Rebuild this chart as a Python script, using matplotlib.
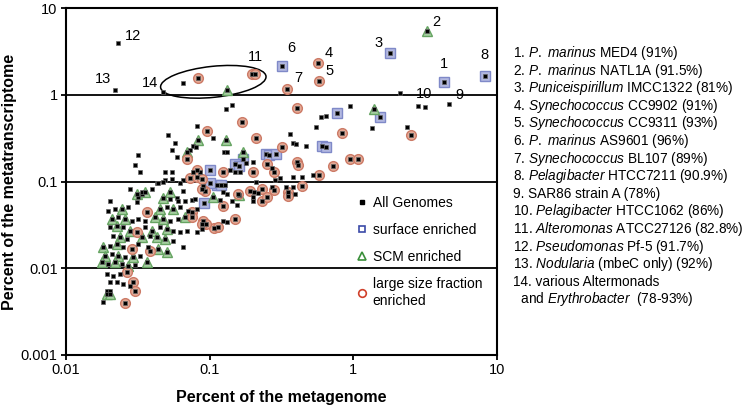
import matplotlib
matplotlib.use("Agg")
import matplotlib.pyplot as plt
from matplotlib.lines import Line2D
from matplotlib.patches import Ellipse
from matplotlib.transforms import ScaledTranslation

plt.rcParams['font.family'] = ['Liberation Sans', 'DejaVu Sans']
plt.rcParams['mathtext.fontset'] = 'custom'
plt.rcParams['mathtext.rm'] = 'Liberation Sans'
plt.rcParams['mathtext.it'] = 'Liberation Sans:italic'

# genomes with no enrichment (percent of metagenome, percent of metatranscriptome)
plain_x = [0.023, 0.022, 0.047, 0.065, 2.11, 2.82, 3.16, 4.6, 2.36, 1.34, 0.595, 0.645, 0.95, 0.55,
           0.362, 0.38, 0.40, 0.47, 0.38, 0.44, 0.52, 0.38, 0.13, 0.143, 0.105, 0.125, 0.133, 0.18,
           0.20, 0.27, 0.138, 0.15, 0.163, 0.086, 0.21, 0.285, 0.31, 0.122, 0.128, 0.34, 0.39, 0.09,
           0.124, 0.133, 0.143, 0.155, 0.203, 0.217, 0.20, 0.20, 0.271, 0.124, 0.132, 0.088, 0.065,
           0.082, 0.051, 0.057, 0.076, 0.08, 0.073, 0.055, 0.059, 0.0327, 0.049, 0.055, 0.076, 0.049,
           0.055, 0.065, 0.043, 0.062, 0.04, 0.065, 0.034, 0.059, 0.075, 0.118,
           0.0202, 0.0317, 0.0529, 0.0602, 0.0673, 0.079, 0.0196, 0.0219, 0.027, 0.0504, 0.0621,
           0.0706, 0.0816, 0.023, 0.0288, 0.0317, 0.0355, 0.0529, 0.0602, 0.0202, 0.0249, 0.0355,
           0.0451, 0.0555, 0.0621, 0.0695, 0.0816, 0.0212, 0.0266, 0.0384, 0.0555, 0.0202, 0.0249,
           0.0317, 0.0372, 0.0209, 0.0257, 0.0327, 0.0196, 0.0245, 0.0302, 0.0193, 0.0212, 0.0238,
           0.0202, 0.0226, 0.0249, 0.0279, 0.0193, 0.0202, 0.0181,
           0.0317, 0.0302, 0.0279, 0.0338, 0.0437, 0.047, 0.0312]
plain_y = [3.9, 1.13, 1.08, 1.37, 1.05, 0.75, 0.73, 0.79, 0.43, 0.41, 0.56, 0.57, 0.75, 0.43,
           0.356, 0.28, 0.27, 0.26, 0.114, 0.114, 0.12, 0.087, 0.69, 0.77, 0.32, 0.22, 0.22, 0.165,
           0.17, 0.145, 0.137, 0.13, 0.13, 0.13, 0.10, 0.105, 0.11, 0.09, 0.092, 0.087, 0.071, 0.088,
           0.075, 0.071, 0.06, 0.053, 0.075, 0.073, 0.067, 0.059, 0.086, 0.035, 0.034, 0.028, 0.0174,
           0.44, 0.34, 0.28, 0.26, 0.25, 0.23, 0.23, 0.19, 0.127, 0.13, 0.13, 0.13, 0.105,
           0.108, 0.103, 0.095, 0.097, 0.081, 0.077, 0.071, 0.065, 0.061, 0.062,
           0.059, 0.0655, 0.0621, 0.0589, 0.0589, 0.0621, 0.0452, 0.0477, 0.0503, 0.0503, 0.0503,
           0.0452, 0.0477, 0.0386, 0.0347, 0.0366, 0.0347, 0.0347, 0.0366, 0.0296, 0.0296, 0.0296,
           0.0296, 0.0266, 0.0259, 0.0266, 0.0259, 0.0233, 0.0215, 0.0233, 0.0204, 0.0179, 0.0174,
           0.0189, 0.0174, 0.0145, 0.0134, 0.0137, 0.0111, 0.0111, 0.0108, 0.0085, 0.0081, 0.0085,
           0.0069, 0.0069, 0.0065, 0.0062, 0.0054, 0.0054, 0.0041,
           0.2, 0.157, 0.081, 0.075, 0.097, 0.1, 0.0574]

# surface enriched
surf_x = [0.318, 1.8, 4.27, 8.24, 1.53, 0.77, 0.61, 0.65, 0.247, 0.26, 0.29, 0.17, 0.15, 0.16,
          0.10, 0.112, 0.12, 0.10, 0.091]
surf_y = [2.16, 3.04, 1.41, 1.65, 0.56, 0.62, 0.26, 0.25, 0.21, 0.20, 0.21, 0.18, 0.16, 0.15,
          0.137, 0.09, 0.092, 0.095, 0.057]

# SCM enriched
scm_x = [0.132, 3.25, 1.39, 0.13, 0.17, 0.105, 0.16, 0.083, 0.053, 0.047, 0.0312, 0.0355, 0.07,
         0.0245, 0.0451, 0.0555, 0.0209, 0.0257, 0.0416, 0.0473, 0.0673, 0.0226, 0.0279, 0.0397,
         0.0504, 0.0238, 0.0338, 0.043, 0.0489, 0.0181, 0.0226, 0.0437, 0.0504, 0.0187, 0.023,
         0.0293, 0.0366, 0.0178, 0.0219, 0.027, 0.0193, 0.0202]
scm_y = [1.14, 5.45, 0.69, 0.30, 0.22, 0.067, 0.069, 0.30, 0.075, 0.064, 0.071, 0.075, 0.22,
         0.0477, 0.0477, 0.0477, 0.0366, 0.0366, 0.0386, 0.0366, 0.0386, 0.0304, 0.0266, 0.0266,
         0.0281, 0.0227, 0.0227, 0.0227, 0.0215, 0.0174, 0.0189, 0.0165, 0.0153, 0.0137, 0.0137,
         0.0134, 0.0117, 0.0117, 0.0117, 0.0105, 0.005, 0.005]

# large size fraction enriched
large_x = [0.083, 0.197, 0.206, 0.345, 0.567, 0.573, 2.51, 0.405, 0.83, 0.405, 0.41, 0.72, 0.95,
           1.08, 0.58, 0.44, 0.168, 0.096, 0.21, 0.32, 0.25, 0.20, 0.28, 0.19, 0.28, 0.157, 0.093,
           0.23, 0.23, 0.25, 0.35, 0.35, 0.124, 0.15, 0.107, 0.115, 0.09, 0.094, 0.07, 0.081, 0.124,
           0.073, 0.081, 0.088, 0.088,
           0.0366, 0.0753, 0.0753, 0.0884, 0.0312, 0.0288, 0.0384, 0.0266, 0.0293, 0.0302, 0.0257]
large_y = [1.57, 1.74, 1.74, 1.17, 2.33, 1.45, 0.34, 0.71, 0.36, 0.17, 0.155, 0.15, 0.18,
           0.18, 0.12, 0.088, 0.48, 0.38, 0.32, 0.25, 0.16, 0.13, 0.13, 0.077, 0.08, 0.071, 0.077,
           0.081, 0.059, 0.067, 0.075, 0.068, 0.052, 0.0366, 0.029, 0.0296, 0.035, 0.032, 0.18, 0.134, 0.13,
           0.11, 0.114, 0.108, 0.081,
           0.044, 0.044, 0.0386, 0.0321, 0.0259, 0.0165, 0.0157, 0.009, 0.0069, 0.0054, 0.004]

# numbered genomes: (label, x, y, text offset in points, ha)
numbered = [("12", 0.023, 3.9, (5, 0), "left"), ("13", 0.022, 1.13, (-3, 3), "right"),
            ("14", 0.047, 1.08, (-3, 1), "right"), ("11", 0.2, 1.74, (2, 7), "center"),
            ("6", 0.318, 2.16, (4, 8), "left"), ("4", 0.567, 2.33, (5, 2), "left"),
            ("5", 0.573, 1.45, (5, 2), "left"), ("7", 0.345, 1.17, (5, 3), "left"),
            ("3", 1.8, 3.04, (-5, 2), "right"), ("2", 3.25, 5.45, (4, 1), "left"),
            ("1", 4.27, 1.41, (0, 8), "center"), ("8", 8.24, 1.65, (0, 10), "center"),
            ("10", 2.82, 0.75, (4, 3), "center"), ("9", 4.6, 0.79, (5, 1), "left")]

key_lines = [r"1. $\mathit{P.\ marinus}$ MED4 (91%)",
             r"2. $\mathit{P.\ marinus}$ NATL1A (91.5%)",
             r"3. $\mathit{Puniceispirillum}$ IMCC1322 (81%)",
             r"4. $\mathit{Synechococcus}$ CC9902 (91%)",
             r"5. $\mathit{Synechococcus}$ CC9311 (93%)",
             r"6. $\mathit{P.\ marinus}$ AS9601 (96%)",
             r"7. $\mathit{Synechococcus}$ BL107 (89%)",
             r"8. $\mathit{Pelagibacter}$ HTCC7211 (90.9%)",
             r"9. SAR86 strain A (78%)",
             r"10. $\mathit{Pelagibacter}$ HTCC1062 (86%)",
             r"11. $\mathit{Alteromonas}$ ATCC27126 (82.8%)",
             r"12. $\mathit{Pseudomonas}$ Pf-5 (91.7%)",
             r"13. $\mathit{Nodularia}$ (mbeC only) (92%)",
             r"14. various Altermonads",
             r"  and $\mathit{Erythrobacter}$  (78-93%)"]

fig = plt.figure(figsize=(7.56, 4.07), dpi=100)
ax = fig.add_axes([0.0873, 0.1278, 0.5701, 0.8525])

ax.plot(surf_x, surf_y, 's', ms=6.5, mfc='#b2b8e0', mec='#7f89c8', mew=1, zorder=2)
ax.plot(scm_x, scm_y, '^', ms=7.5, mfc='#a6cfa1', mec='#66a462', mew=1, zorder=2)
ax.plot(large_x, large_y, 'o', ms=7, mfc='#e4aa96', mec='#cc7a66', mew=1, zorder=2)
all_x = plain_x + surf_x + scm_x + large_x
all_y = plain_y + surf_y + scm_y + large_y
ax.plot(all_x, all_y, 's', ms=2.8, color='black', mec='#666666', mew=0.5, zorder=3)

for v in [0.01, 0.1, 1]:
    ax.axhline(v, color='black', lw=1.3, zorder=1)

ax.set_xscale('log')
ax.set_yscale('log')
ax.set_xlim(0.01, 10)
ax.set_ylim(0.001, 10)
ax.set_xticks([0.01, 0.1, 1, 10])
ax.set_xticklabels(['0.01', '0.1', '1', '10'])
ax.set_yticks([0.001, 0.01, 0.1, 1, 10])
ax.set_yticklabels(['0.001', '0.01', '0.1', '1', '10'])
ax.minorticks_off()
ax.tick_params(direction='out', length=3.5, width=1.3, labelsize=10.5, colors='black', pad=2.5)
for s in ax.spines.values():
    s.set_linewidth(1.5)

ax.set_xlabel('Percent of the metagenome', fontsize=11.5, fontweight='bold', labelpad=9)
ax.set_ylabel('Percent of the metatranscriptome', fontsize=11.5, fontweight='bold', labelpad=3)

for lab, x, y, off, ha in numbered:
    ax.annotate(lab, (x, y), xytext=off, textcoords='offset points', ha=ha, va='bottom',
                fontsize=10.5)

# ellipse around group 14
ell = Ellipse((0, 0), 1.06, 0.31, angle=6, fill=False, ec='black', lw=1.1,
              transform=fig.dpi_scale_trans + ScaledTranslation(0.106, 1.41, ax.transData))
ax.add_patch(ell)

handles = [Line2D([], [], ls='none', marker='s', ms=2.6, color='black'),
           Line2D([], [], ls='none', marker='s', ms=5, mfc='none', mec='#3b4aa8', mew=1.2),
           Line2D([], [], ls='none', marker='^', ms=5.5, mfc='none', mec='#3a8f3a', mew=1.2),
           Line2D([], [], ls='none', marker='o', ms=5.5, mfc='none', mec='#d0402a', mew=1.2)]
ax.legend(handles, ['All Genomes', 'surface enriched', 'SCM enriched',
                    'large size fraction\nenriched'],
          loc='upper left', bbox_to_anchor=(0.66, 0.475), frameon=False, fontsize=10,
          handlelength=0.8, handletextpad=0.4, labelspacing=0.95, borderaxespad=0)

y0 = 1 - 53 / 407
for i, line in enumerate(key_lines):
    fig.text(0.679, y0 - i * 17.6 / 407, line, fontsize=9.8, va='center', ha='left')

fig.savefig('out.png', dpi=100)
